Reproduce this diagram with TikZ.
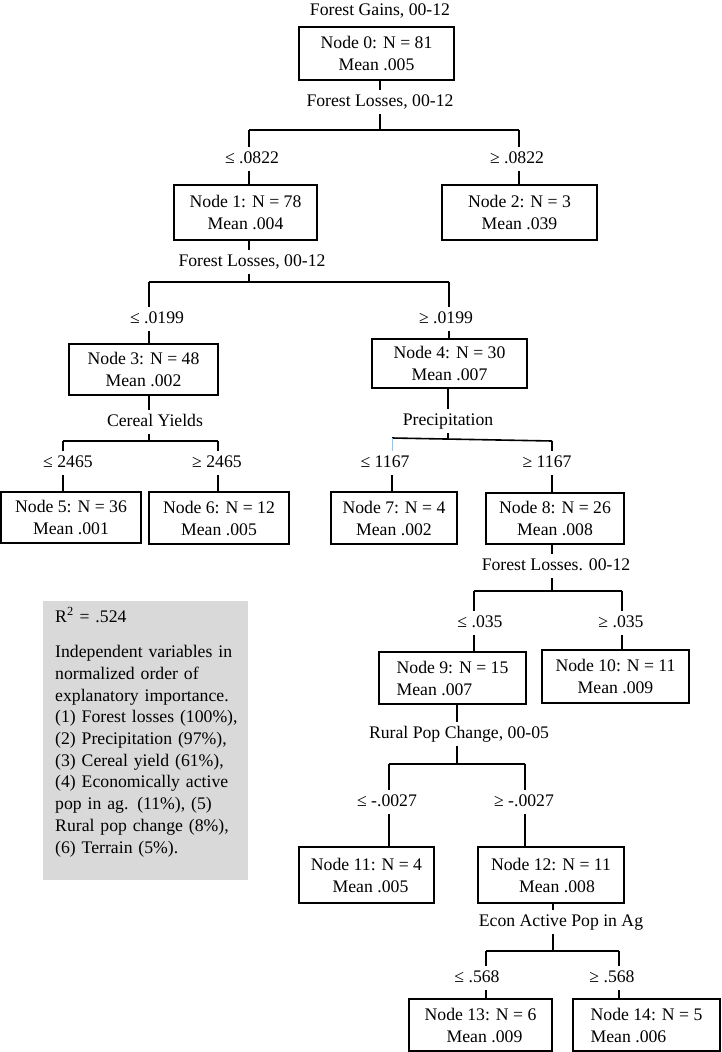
\documentclass[tikz,border=0pt]{standalone}
\usepackage{fontspec}
\setmainfont{Liberation Serif}
\definecolor{statgray}{HTML}{D9D9D9}
\definecolor{lightblueline}{HTML}{9DC3E6}
\newcommand\treefont{\fontsize{17.7}{22}\selectfont}
\newcommand\statfont{\fontsize{17.7}{21.7}\selectfont}
\begin{document}
\begin{tikzpicture}[x=1pt,y=-1pt,
  treebox/.style={draw, line width=1.8pt, align=center, inner sep=0pt, font=\treefont},
  lab/.style={inner xsep=0pt, inner ysep=4pt, text height=12pt, text depth=4pt, anchor=base, font=\treefont},
  conn/.style={line width=1.6pt}]
\useasboundingbox (0,0) rectangle (722,1052);

% boxes
\node[treebox, minimum width=155, minimum height=53] (n0) at (376.5,53.5) {Node 0: N = 81\\Mean .005};
\node[treebox, minimum width=143, minimum height=55] (n1) at (245.5,212.5) {Node 1: N = 78\\Mean .004};
\node[treebox, minimum width=155, minimum height=55] (n2) at (519.5,212.5) {Node 2: N = 3\\Mean .039};
\node[treebox, minimum width=149, minimum height=51] (n3) at (143.5,369.5) {Node 3: N = 48\\Mean .002};
\node[treebox, minimum width=155, minimum height=49] (n4) at (449.5,363.5) {Node 4: N = 30\\Mean .007};
\node[treebox, minimum width=140, minimum height=51] (n5) at (71,517.5) {Node 5: N = 36\\Mean .001};
\node[treebox, minimum width=140, minimum height=52] (n6) at (219,518) {Node 6: N = 12\\Mean .005};
\node[treebox, minimum width=126, minimum height=52] (n7) at (394,518) {Node 7: N = 4\\Mean .002};
\node[treebox, minimum width=138, minimum height=51] (n8) at (555,518.5) {Node 8: N = 26\\Mean .008};
\node[treebox, align=left, minimum width=147, minimum height=52] (n9) at (452.5,678) {Node 9: N = 15\\Mean .007};
\node[treebox, minimum width=147, minimum height=53] (n10) at (615.5,676.5) {Node 10: N = 11\\Mean .009};
\node[treebox, minimum width=135, minimum height=56] (n11) at (366.5,875) {Node 11: N = 4\\\hspace*{8pt}Mean .005};
\node[treebox, minimum width=146, minimum height=56] (n12) at (551,875) {Node 12: N = 11\\\hspace*{12pt}Mean .008};
\node[treebox, minimum width=143, minimum height=52] (n13) at (480.5,1025) {Node 13: N = 6\\\hspace*{8pt}Mean .009};
\node[treebox, align=left, minimum width=147, minimum height=52] (n14) at (646.5,1025) {Node 14: N = 5\\Mean .006};

% labels
\node[lab] (title) at (380,15) {Forest Gains, 00-12};
\node[lab] (a0) at (380,106) {Forest Losses, 00-12};
\node[lab] (t1) at (252,163) {≤ .0822};
\node[lab] (t2) at (517,163) {≥ .0822};
\node[lab] (a1) at (252,266) {Forest Losses, 00-12};
\node[lab] (t3) at (157,323) {≤ .0199};
\node[lab] (t4) at (446,323) {≥ .0199};
\node[lab] (a3) at (155,426) {Cereal Yields};
\node[lab] (t5) at (68,467) {≤ 2465};
\node[lab] (t6) at (217,467) {≥ 2465};
\node[lab] (a4) at (448,425) {Precipitation};
\node[lab] (t7) at (385,467) {≤ 1167};
\node[lab] (t8) at (547,467) {≥ 1167};
\node[lab] (a8) at (556,570) {Forest Losses. 00-12};
\node[lab] (t9) at (480,627) {≤ .035};
\node[lab] (t10) at (621,627) {≥ .035};
\node[lab] (a9) at (459,738) {Rural Pop Change, 00-05};
\node[lab] (t11) at (387,806) {≤ -.0027};
\node[lab] (t12) at (524,806) {≥ -.0027};
\node[lab] (a12) at (561,926) {Econ Active Pop in Ag};
\node[lab] (t13) at (477,982) {≤ .568};
\node[lab] (t14) at (612,982) {≥ .568};

% connectors for standard splits
\foreach \p/\a/\tl/\tr/\cl/\cr/\hy/\xl/\xm/\xr in {
  n0/a0/t1/t2/n1/n2/130/249/380/519,
  n1/a1/t3/t4/n3/n4/282/149/249/449,
  n3/a3/t5/t6/n5/n6/441/63/149/218,
  n8/a8/t9/t10/n9/n10/591/474/552/622,
  n9/a9/t11/t12/n11/n12/764/389/457/525,
  n12/a12/t13/t14/n13/n14/951/486/553/619}{
  \coordinate (L-\p) at (\xl,\hy);
  \coordinate (M-\p) at (\xm,\hy);
  \coordinate (R-\p) at (\xr,\hy);
  \draw[conn] (\p.south -| M-\p) -- (\a.north -| M-\p);
  \draw[conn] (\a.south -| M-\p) -- (M-\p);
  \draw[conn] (L-\p) -- (R-\p);
  \draw[conn] (L-\p) -- (\tl.north -| L-\p);
  \draw[conn] (\tl.south -| L-\p) -- (\cl.north -| L-\p);
  \draw[conn] (R-\p) -- (\tr.north -| R-\p);
  \draw[conn] (\tr.south -| R-\p) -- (\cr.north -| R-\p);
}

% precipitation split (node 4)
\coordinate (L-n4) at (392,438);
\coordinate (M-n4) at (448,439.5);
\coordinate (R-n4) at (552,441);
\draw[conn] (n4.south -| M-n4) -- (a4.north -| M-n4);
\draw[conn] (a4.south -| M-n4) -- (M-n4);
\draw[conn] (L-n4) -- (R-n4);
\draw[lightblueline, line width=1pt] (L-n4) -- (t7.north -| L-n4);
\draw[conn] (t7.south -| L-n4) -- (n7.north -| L-n4);
\draw[conn] (R-n4) -- (t8.north -| R-n4);
\draw[conn] (t8.south -| R-n4) -- (n8.north -| R-n4);

% statistics panel
\node[fill=statgray, inner sep=0pt, minimum width=205, minimum height=279, anchor=north west] (stats) at (43,601) {};
\node[anchor=base west, inner sep=0pt, text width=190, align=left, font=\statfont] (statstext) at (55,622)
 {R\textsuperscript{2} = .524\\[14pt]
  Independent variables in\\
  normalized order of\\
  explanatory importance.\\
  (1) Forest losses (100\%),\\
  (2) Precipitation (97\%),\\
  (3) Cereal yield (61\%),\\
  (4) Economically active\\
  pop in ag. (11\%), (5)\\
  Rural pop change (8\%),\\
  (6) Terrain (5\%).};
\end{tikzpicture}
\end{document}
